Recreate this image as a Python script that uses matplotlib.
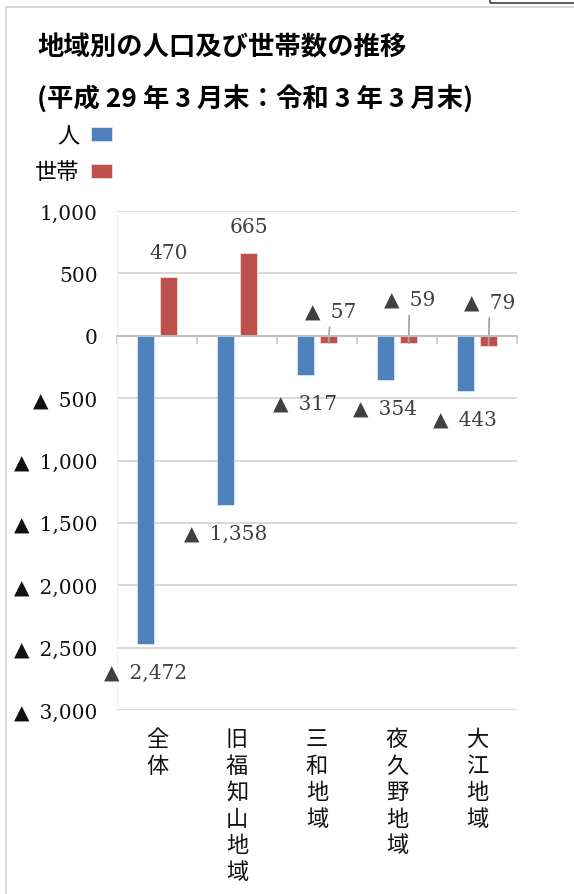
import matplotlib.pyplot as plt
from matplotlib.patches import Rectangle
from matplotlib.transforms import blended_transform_factory

# 人口・世帯数の増減（平成29年3月末 → 令和3年3月末）
areas = ['全体', '旧福知山地域', '三和地域', '夜久野地域', '大江地域']
people = [-2472, -1358, -317, -354, -443]
households = [470, 665, -57, -59, -79]
yticks = [1000, 500, 0, -500, -1000, -1500, -2000, -2500, -3000]

BLUE = '#4F81BD'
RED = '#C0504D'
GRID = '#D9D9D9'
LABEL = '#404040'
NUM_FONT = ['DejaVu Serif', 'DejaVu Sans']
JP_FONT = ['Noto Sans CJK JP', 'DejaVu Sans']


def fmt(v):
    # マイナスは▲表記
    if v < 0:
        return '▲\u2002{:,}'.format(-v)
    return '{:,}'.format(v)


def main():
    fig = plt.figure(figsize=(5.74, 8.95), dpi=100)
    ax = fig.add_axes([117 / 574, 1 - 711 / 895, 400 / 574, 499 / 895])

    x = list(range(len(areas)))
    w = 0.22
    off = 0.145
    b1 = ax.bar([i - off for i in x], people, w, color=BLUE,
                edgecolor='#DCE6F2', linewidth=0.6, zorder=3, label='人')
    b2 = ax.bar([i + off for i in x], households, w, color=RED,
                edgecolor='#F2DCDB', linewidth=0.6, zorder=3, label='世帯')

    ax.set_xlim(-0.5, len(areas) - 0.5)
    ax.set_ylim(-3000, 1000)
    ax.set_yticks(yticks)
    ax.set_yticklabels([fmt(v) for v in yticks], family=NUM_FONT,
                       fontsize=14.5, color='#111111')
    ax.tick_params(axis='y', length=0, pad=14)
    ax.grid(axis='y', color=GRID, linewidth=1.4, zorder=0)

    for s in ['top', 'right']:
        ax.spines[s].set_visible(False)
    ax.spines['left'].set_color('#F0F0F0')
    ax.spines['bottom'].set_position(('data', 0))
    ax.spines['bottom'].set_color('#BFBFBF')
    ax.spines['bottom'].set_linewidth(1.4)
    ax.spines['bottom'].set_zorder(4)
    ax.set_xticks([i - 0.5 for i in range(len(areas) + 1)])
    ax.set_xticklabels([])
    ax.tick_params(axis='x', length=6, width=1.4, color='#D0D0D0',
                   direction='out')

    # 地域名（縦書き）
    tr = blended_transform_factory(ax.transData, fig.transFigure)
    for i, name in enumerate(areas):
        ax.text(i, 1 - 728 / 895, '\n'.join(name), transform=tr,
                ha='center', va='top', fontsize=16, linespacing=1.2,
                family=JP_FONT, color='#111111')

    # 人口の値ラベル（棒の先端の下）
    for i, v in enumerate(people):
        ax.annotate(fmt(v), (i - off, v), xytext=(0, -28),
                    textcoords='offset pixels', ha='center', va='center',
                    fontsize=14.5, family=NUM_FONT, color=LABEL)

    # 世帯の値ラベル（減少分は引出線付き）
    hh_offsets = [(0, 25), (0, 26), (2, 32), (1, 44), (1, 44)]
    for i, v in enumerate(households):
        dx, dy = hh_offsets[i]
        if v >= 0:
            ax.annotate(fmt(v), (i + off, v), xytext=(dx, dy),
                        textcoords='offset pixels', ha='center',
                        va='center', fontsize=14.5, family=NUM_FONT,
                        color=LABEL)
        else:
            ax.annotate(fmt(v), (i + off, v), xytext=(dx, dy),
                        textcoords='offset pixels', ha='center',
                        va='center', fontsize=14.5, family=NUM_FONT,
                        color=LABEL,
                        arrowprops=dict(arrowstyle='-', color='#A6A6A6',
                                        lw=1.3, shrinkA=3, shrinkB=0))

    # 凡例
    fig.legend(handles=[b1, b2], labels=['人', '世帯'],
               loc='upper left', bbox_to_anchor=(24 / 574, 1 - 114 / 895),
               frameon=False, markerfirst=False,
               prop={'family': JP_FONT, 'size': 16},
               handlelength=0.95, handleheight=0.6, handletextpad=0.5,
               labelspacing=0.6, borderpad=0)

    # タイトル
    fig.text(37 / 574, 1 - 48 / 895, '地域別の人口及び世帯数の推移',
             family=JP_FONT, fontsize=19, fontweight='bold',
             ha='left', va='center')
    fig.text(37 / 574, 1 - 100 / 895,
             '(平成 29 年 3 月末：令和 3 年 3 月末)',
             family=JP_FONT, fontsize=19, fontweight='bold',
             ha='left', va='center')

    # 外枠
    fig.add_artist(plt.Line2D([6 / 574, 6 / 574], [0, 1 - 8 / 895],
                              transform=fig.transFigure, color='#D9D9D9',
                              lw=1.5))
    fig.add_artist(plt.Line2D([6 / 574, 1], [1 - 8 / 895, 1 - 8 / 895],
                              transform=fig.transFigure, color='#D9D9D9',
                              lw=1.5))
    fig.add_artist(Rectangle((490 / 574, 1 - 4 / 895), 0.2, 0.05,
                             transform=fig.transFigure, fill=False,
                             edgecolor='#404040', lw=1.2))

    fig.savefig('out.png', dpi=100)


if __name__ == '__main__':
    main()
